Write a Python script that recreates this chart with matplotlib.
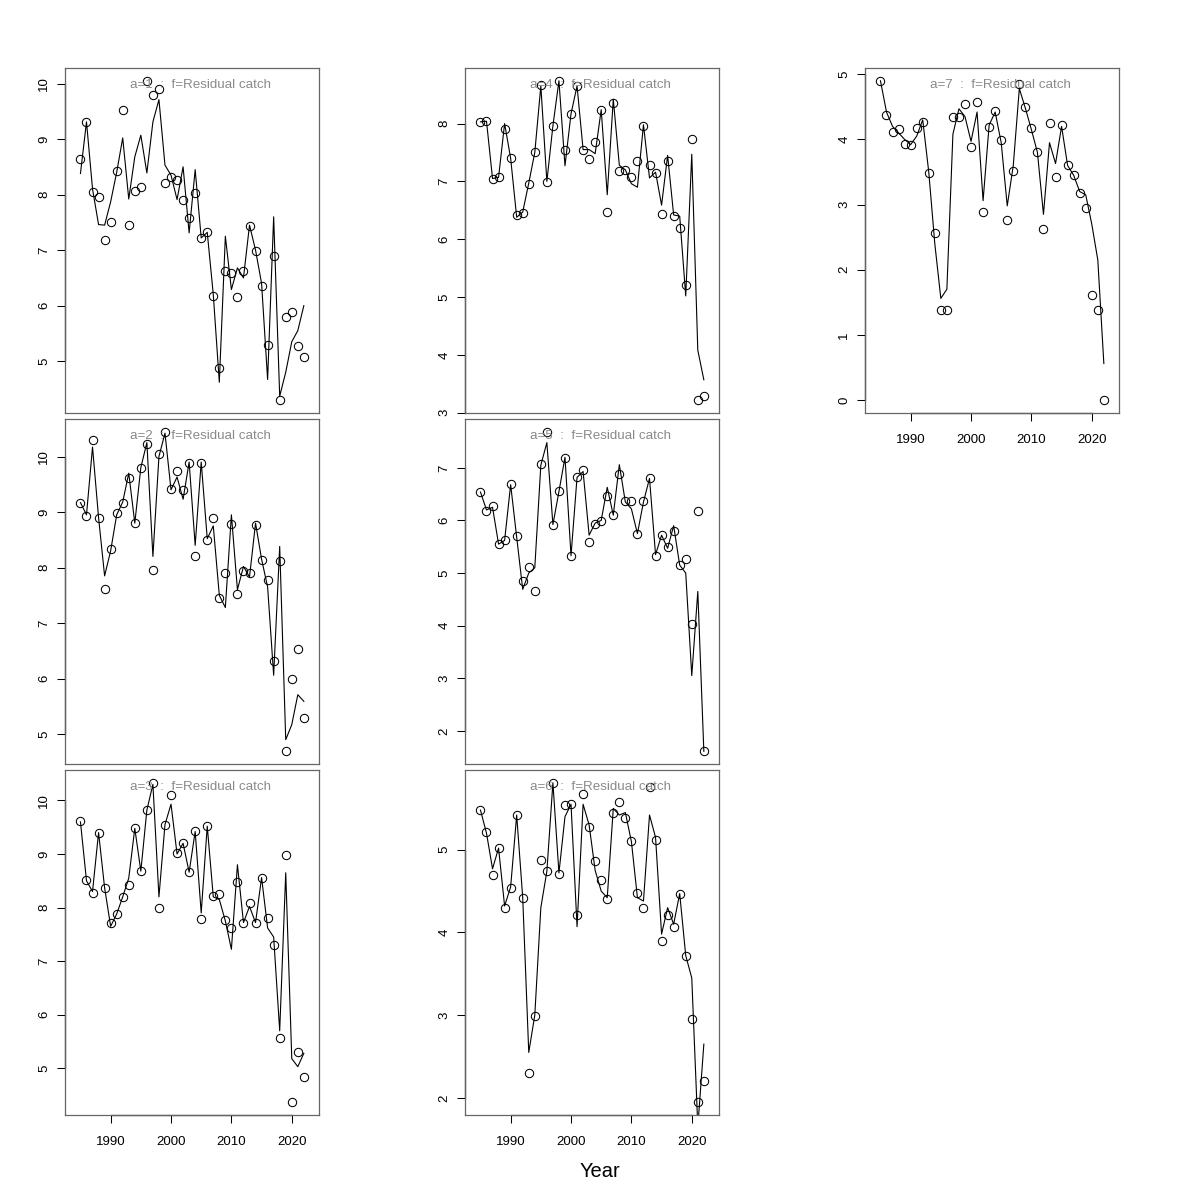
import numpy as np
import matplotlib
matplotlib.use('Agg')
import matplotlib.pyplot as plt
from matplotlib.ticker import MultipleLocator

plt.rcParams['font.family'] = ['Liberation Sans', 'DejaVu Sans']

years = list(range(1985, 2023))
ftype = 'Residual catch'

# observed (circles) and fitted (line), by age a=1..7
obs1 = [8.65, 9.31, 8.04, 7.96, 7.18, 7.50, 8.43, 9.52, 7.45, 8.07, 8.13, 10.05, 9.80, 9.90, 8.20, 8.31, 8.27, 7.91, 7.57,
        8.03, 7.21, 7.32, 6.17, 4.87, 6.63, 6.58, 6.16, 6.63, 7.44, 6.99, 6.35, 5.29, 6.90, 4.30, 5.79, 5.88, 5.28, 5.07]
fit1 = [8.38, 9.31, 8.10, 7.46, 7.45, 7.87, 8.40, 9.02, 7.92, 8.68, 9.07, 8.39, 9.31, 9.71, 8.53, 8.35, 7.91, 8.50, 7.31,
        8.45, 7.22, 7.32, 6.20, 4.62, 7.25, 6.29, 6.68, 6.50, 7.45, 7.00, 6.40, 4.67, 7.60, 4.37, 4.80, 5.35, 5.55, 6.00]

obs2 = [9.17, 8.92, 10.29, 8.89, 7.62, 8.34, 8.98, 9.16, 9.62, 8.80, 9.80, 10.23, 7.95, 10.04, 10.44, 9.41, 9.74, 9.39, 9.88,
        8.20, 9.88, 8.49, 8.89, 7.46, 7.90, 8.79, 7.53, 7.93, 7.91, 8.76, 8.14, 7.78, 6.32, 8.11, 4.69, 6.00, 6.53, 5.29]
fit2 = [9.17, 8.95, 10.17, 8.90, 7.85, 8.30, 8.95, 9.18, 9.70, 8.80, 9.80, 10.25, 8.20, 10.00, 10.42, 9.40, 9.63, 9.23, 9.90,
        8.40, 9.90, 8.52, 8.75, 7.50, 7.28, 8.95, 7.60, 8.02, 7.83, 8.80, 8.15, 7.65, 6.06, 8.38, 4.90, 5.17, 5.71, 5.59]

obs3 = [9.61, 8.51, 8.27, 9.40, 8.37, 7.72, 7.88, 8.19, 8.42, 9.48, 8.68, 9.82, 10.33, 7.99, 9.54, 10.10, 9.01, 9.21, 8.66,
        9.43, 7.79, 9.52, 8.21, 8.26, 7.77, 7.61, 8.48, 7.72, 8.08, 7.72, 8.56, 7.81, 7.31, 5.56, 8.98, 4.37, 5.31, 4.83]
fit3 = [9.60, 8.50, 8.30, 9.40, 8.37, 7.65, 7.88, 8.20, 8.55, 9.48, 8.68, 9.82, 10.30, 8.20, 9.55, 9.93, 9.00, 9.20, 8.66,
        9.42, 7.90, 9.52, 8.20, 8.15, 7.75, 7.22, 8.80, 7.72, 8.02, 7.72, 8.56, 7.62, 7.45, 5.70, 8.65, 5.18, 5.03, 5.28]

obs4 = [8.03, 8.04, 7.04, 7.08, 7.91, 7.40, 6.42, 6.46, 6.96, 7.51, 8.66, 6.99, 7.96, 8.74, 7.55, 8.16, 8.65, 7.55, 7.38,
        7.68, 8.24, 6.47, 8.35, 7.18, 7.19, 7.08, 7.35, 7.95, 7.29, 7.15, 6.43, 7.35, 6.40, 6.20, 5.21, 7.73, 3.22, 3.29]
fit4 = [8.03, 8.04, 7.05, 7.07, 8.00, 7.40, 6.38, 6.47, 6.97, 7.50, 8.65, 7.00, 7.96, 8.74, 7.27, 8.17, 8.65, 7.55, 7.55,
        7.48, 8.24, 6.77, 8.42, 7.28, 7.20, 6.96, 6.90, 7.98, 7.06, 7.16, 6.59, 7.45, 6.42, 6.40, 5.02, 7.47, 4.08, 3.57]

obs5 = [6.54, 6.18, 6.27, 5.56, 5.62, 6.70, 5.70, 4.84, 5.11, 4.66, 7.08, 7.68, 5.92, 6.56, 7.19, 5.33, 6.83, 6.96, 5.59,
        5.94, 5.98, 6.47, 6.10, 6.89, 6.36, 6.36, 5.75, 6.36, 6.80, 5.32, 5.72, 5.49, 5.79, 5.16, 5.26, 4.04, 6.18, 1.61]
fit5 = [6.54, 6.20, 6.25, 5.55, 5.62, 6.68, 5.68, 4.69, 5.00, 5.10, 7.05, 7.48, 5.92, 6.55, 7.20, 5.33, 6.82, 6.93, 5.72,
        5.95, 6.00, 6.63, 6.10, 7.06, 6.35, 6.22, 5.75, 6.35, 6.80, 5.35, 5.72, 5.47, 5.90, 5.15, 5.00, 3.05, 4.65, 1.61]

obs6 = [5.48, 5.21, 4.70, 5.02, 4.30, 4.54, 5.42, 4.42, 2.30, 2.99, 4.88, 4.74, 5.81, 4.71, 5.54, 5.55, 4.21, 5.67, 5.27,
        4.86, 4.63, 4.40, 5.45, 5.58, 5.39, 5.10, 4.48, 4.29, 5.76, 5.12, 3.90, 4.21, 4.07, 4.47, 3.71, 2.95, 1.95, 2.20]
fit6 = [5.48, 5.20, 4.77, 5.02, 4.32, 4.55, 5.42, 4.42, 2.55, 3.00, 4.30, 4.74, 5.81, 4.72, 5.40, 5.55, 4.07, 5.55, 5.30,
        4.75, 4.50, 4.42, 5.50, 5.42, 5.45, 5.10, 4.42, 4.38, 5.42, 5.15, 3.98, 4.30, 4.10, 4.47, 3.72, 3.45, 1.65, 2.65]

obs7 = [4.90, 4.38, 4.12, 4.16, 3.93, 3.91, 4.17, 4.27, 3.49, 2.56, 1.38, 1.38, 4.35, 4.35, 4.54, 3.89, 4.58, 2.89, 4.19,
        4.44, 3.99, 2.77, 3.52, 4.85, 4.50, 4.17, 3.80, 2.63, 4.25, 3.43, 4.22, 3.61, 3.46, 3.17, 2.94, 1.61, 1.38, 0.00]
fit7 = [4.90, 4.42, 4.20, 4.10, 4.00, 3.92, 4.05, 4.30, 3.50, 2.40, 1.56, 1.70, 4.08, 4.47, 4.35, 3.97, 4.42, 3.06, 4.22,
        4.42, 3.95, 2.98, 3.60, 4.78, 4.48, 4.15, 3.80, 2.85, 3.95, 3.63, 4.20, 3.60, 3.45, 3.20, 3.15, 2.70, 2.15, 0.56]

obs_all = [obs1, obs2, obs3, obs4, obs5, obs6, obs7]
fit_all = [fit1, fit2, fit3, fit4, fit5, fit6, fit7]
xticks = [1990, 2000, 2010, 2020]

W = H = 1200
fig = plt.figure(figsize=(12, 12), dpi=100)

col_left = [65, 465, 865]
row_top = [68, 419.3, 770]
pw, ph = 254.3, 344.8

def panel(i, col, row, bottom_axis):
    l = col_left[col] / W
    b = 1 - (row_top[row] + ph) / H
    ax = fig.add_axes([l, b, pw / W, ph / H])
    o = np.array(obs_all[i])
    f = np.array(fit_all[i])
    ax.plot(years, f, color='black', lw=0.8)
    ax.plot(years, o, 'o', mfc='none', mec='black', ms=6.0, mew=0.75)

    ax.set_xlim(1982.44, 2024.56)
    rng = o.max() - o.min()
    lo, hi = o.min() - 0.04 * rng, o.max() + 0.04 * rng
    ax.set_ylim(lo, hi)
    ax.yaxis.set_major_locator(MultipleLocator(1))
    for t in ax.get_yticklabels():
        t.set_rotation(90)
        t.set_va('center')
    ax.tick_params(axis='y', length=5.5, width=0.75, pad=5, labelsize=9.5)
    yt = [v for v in range(int(np.ceil(lo)), int(np.floor(hi)) + 1)]
    ax.plot([1982.44, 1982.44], [yt[0], yt[-1]], color='black', lw=0.9, clip_on=False)

    if bottom_axis:
        ax.set_xticks(xticks)
        ax.tick_params(axis='x', length=5.5, width=0.75, pad=10, labelsize=9.5)
        ax.plot([xticks[0], xticks[-1]], [lo, lo], color='black', lw=0.9, clip_on=False)
    else:
        ax.set_xticks([])

    for s in ax.spines.values():
        s.set_color('#666666')
        s.set_linewidth(0.9)

    ax.text(0.2556, 0.952, 'a=%d  :  f=%s' % (i + 1, ftype), transform=ax.transAxes,
            ha='left', va='center', color='#8a8a8a', fontsize=9.6)
    return ax

# layout goes down the columns like mfcol
panel(0, 0, 0, False)
panel(1, 0, 1, False)
panel(2, 0, 2, True)
panel(3, 1, 0, False)
panel(4, 1, 1, False)
panel(5, 1, 2, True)
panel(6, 2, 0, True)

fig.text(0.5, 1 - 1171.7 / H, 'Year', ha='center', va='center', fontsize=14.5)

fig.savefig('out.png', dpi=100)
